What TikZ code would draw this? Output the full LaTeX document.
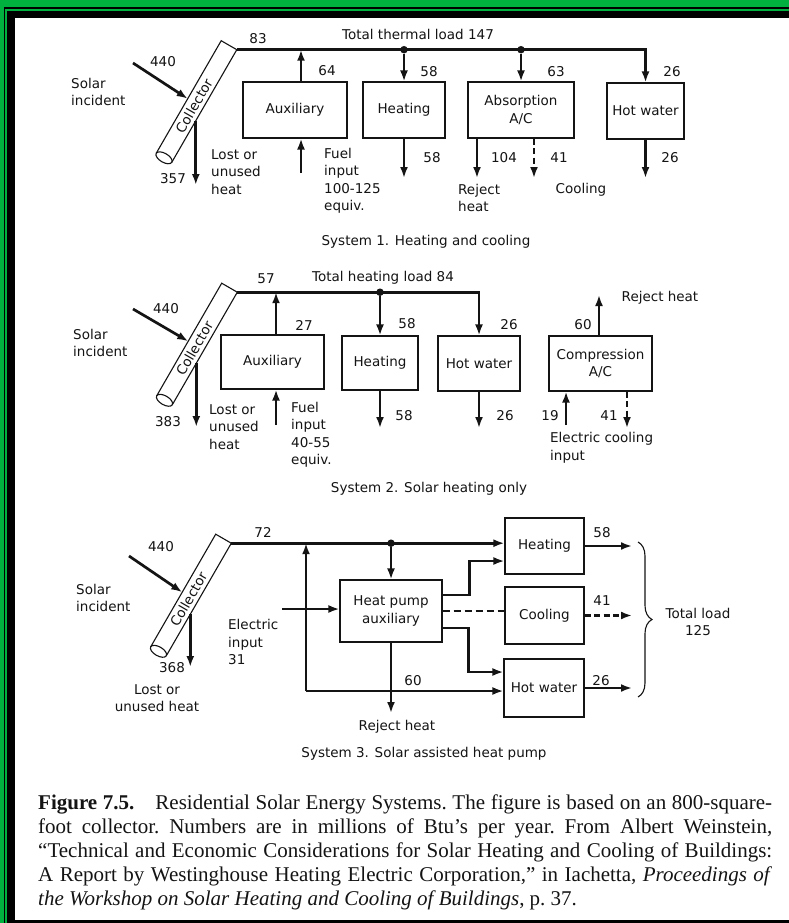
\documentclass[tikz,border=0pt]{standalone}
\usepackage{fontspec}
\setmainfont{Liberation Serif}
\newfontfamily\diagfont{DejaVu Sans}
\usetikzlibrary{positioning,arrows.meta,calc,decorations.pathreplacing}
\definecolor{frame}{HTML}{00B140}
\definecolor{ink}{HTML}{141414}
\newcommand\lbl{\diagfont\fontsize{13.5}{17.5}\selectfont}
\newcommand\capfont{\fontsize{21}{24}\selectfont\frenchspacing}
\tikzset{
  block/.style    ={draw=ink, line width=1.1pt, align=center, font=\lbl, text=ink, inner sep=2pt},
  lbl/.style      ={font=\lbl, text=ink, inner sep=1pt},
  note/.style     ={lbl, align=left, anchor=west},
  tube/.style     ={draw=ink, line width=1.1pt},
  pipe/.style     ={draw=ink, line width=2.7pt},
  flow/.style     ={pipe, -{Latex[length=11pt,width=8pt]}},
  dashflow/.style ={flow, dash pattern=on 6pt off 3.5pt},
  dashpipe/.style ={pipe, dash pattern=on 7pt off 4pt},
  joint/.style    ={circle, fill=ink, inner sep=0pt, minimum size=7.5pt},
  collector/.pic  ={
    \begin{scope}[rotate=60]
      \draw[tube] (-65,-9) -- (65,-9) -- (65,9) -- (-65,9);
      \draw[tube] (-65,0) ellipse [x radius=4.5, y radius=9];
      \node[lbl, rotate=60] (-lbl) at (-5,0) {Collector};
      \coordinate (-top) at (65,9);
      \coordinate (-lost) at (-17,9);
      \coordinate (-sun) at (-2,-9);
    \end{scope}
  },
}
\begin{document}
\begin{tikzpicture}[x=1pt, y=-1pt]
\useasboundingbox (0,0) rectangle (789,923);
% frame
\fill[frame] (0,0) rectangle (789,923);
\fill[black] (4,7) rectangle (789,923);
\fill[frame] (5,9) rectangle (789,923);
\fill[black] (7,11) rectangle (789,923);
\fill[white] (15,18) rectangle (789,920);

% System 1
\pic (c1) at (196.5,101.5) {collector};
\coordinate (s1) at (133,63);
\draw[flow] (s1) -- (c1-sun);
\node[lbl] (n440a) at (163,62) {440};
\node[note] (sol1) at (70,92) {Solar\\incident};
\coordinate (l1) at (0,185);
\draw[flow] (c1-lost) -- (c1-lost |- l1);
\node[lbl] (n357) at (173,179) {357};
\node[note] (lost1) at (210,172) {Lost or\\unused\\heat};
\node[block, minimum width=104, minimum height=56] (aux1) at (295,110) {Auxiliary};
\node[block, minimum width=82, minimum height=56] (heat1) at (404,110) {Heating};
\node[block, minimum width=106, minimum height=56] (abs1) at (521,110) {Absorption\\A/C};
\node[block, minimum width=77, minimum height=56] (hw1) at (645.5,111) {Hot water};
\draw[flow] (c1-top) -| (hw1.north);
\node[lbl] (n83) at (258,39) {83};
\node[lbl] (tot1) at (418,34) {Total thermal load 147};
\node[joint] (j1a) at (heat1.north |- c1-top) {};
\node[joint] (j1b) at (abs1.north |- c1-top) {};
\draw[flow] (aux1.north -| 301,0) -- (c1-top -| 301,0);
\coordinate (f1) at (301,173);
\draw[flow] (f1) -- (f1 |- aux1.south);
\draw[flow] (j1a) -- (heat1.north);
\draw[flow] (j1b) -- (abs1.north);
\coordinate (o1) at (0,178);
\draw[flow] (heat1.south) -- (heat1.south |- o1);
\draw[flow] (abs1.south -| 477,0) -- (477,0 |- o1);
\draw[dashflow] (abs1.south -| 534,0) -- (534,0 |- o1);
\draw[flow] (hw1.south) -- (hw1.south |- o1);
\node[lbl] (n64) at (327,71) {64};
\node[note] (fuel1) at (323,181) {Fuel\\input\\100-125\\equiv.};
\node[lbl] (n58a) at (429,72) {58};
\node[lbl] (n58b) at (432,158) {58};
\node[lbl] (n63) at (556,72) {63};
\node[lbl] (n104) at (504,158) {104};
\node[lbl] (n41a) at (559,158) {41};
\node[note] (rej1) at (457,198) {Reject\\heat};
\node[lbl] (cool1) at (581,190) {Cooling};
\node[lbl] (n26a) at (672,72) {26};
\node[lbl] (n26b) at (670,158) {26};
\node[lbl] (sys1) at (426,242) {System 1. Heating and cooling};

% System 2
\pic (c2) at (197,344) {collector};
\coordinate (s2) at (133,309);
\draw[flow] (s2) -- (c2-sun);
\node[lbl] (n440b) at (166,309) {440};
\node[note] (sol2) at (72,343) {Solar\\incident};
\coordinate (l2) at (0,427);
\draw[flow] (c2-lost) -- (c2-lost |- l2);
\node[lbl] (n383) at (168,422) {383};
\node[note] (lost2) at (208,427) {Lost or\\unused\\heat};
\node[block, minimum width=103, minimum height=54] (aux2) at (272.5,362) {Auxiliary};
\node[block, minimum width=76, minimum height=54] (heat2) at (380,363) {Heating};
\node[block, minimum width=82, minimum height=55] (hw2) at (479,363.5) {Hot water};
\node[block, minimum width=103, minimum height=55] (comp2) at (600.5,363.5) {Compression\\A/C};
\draw[flow] (c2-top) -| (hw2.north);
\node[lbl] (n57) at (266,279) {57};
\node[lbl] (tot2) at (383,278) {Total heating load 84};
\node[joint] (j2) at (heat2.north |- c2-top) {};
\draw[flow] (j2) -- (heat2.north);
\draw[flow] (aux2.north -| 276,0) -- (c2-top -| 276,0);
\coordinate (f2) at (276,425);
\draw[flow] (f2) -- (f2 |- aux2.south);
\coordinate (o2) at (0,428);
\draw[flow] (heat2.south) -- (heat2.south |- o2);
\draw[flow] (hw2.south) -- (hw2.south |- o2);
\coordinate (rj2) at (599,295);
\draw[flow] (comp2.north -| rj2) -- (rj2);
\coordinate (e2) at (566,425);
\draw[flow] (e2) -- (e2 |- comp2.south);
\draw[dashflow] (comp2.south -| 627,0) -- (627,0 |- o2);
\node[lbl] (n27) at (304,325) {27};
\node[note] (fuel2) at (290,435) {Fuel\\input\\40-55\\equiv.};
\node[lbl] (n58c) at (407,324) {58};
\node[lbl] (n58d) at (404,416) {58};
\node[lbl] (n26c) at (509,325) {26};
\node[lbl] (n26d) at (505,416) {26};
\node[lbl] (n60a) at (583,325) {60};
\node[lbl] (rej2) at (660,298) {Reject heat};
\node[lbl] (n19) at (550,416) {19};
\node[lbl] (n41b) at (609,416) {41};
\node[note] (elec2) at (549,448) {Electric cooling\\input};
\node[lbl] (sys2) at (429,489) {System 2. Solar heating only};

% System 3
\pic (c3) at (191,595) {collector};
\coordinate (s3) at (129,556);
\draw[flow] (s3) -- (c3-sun);
\node[lbl] (n440c) at (161,547) {440};
\node[note] (sol3) at (75,598) {Solar\\incident};
\coordinate (l3) at (0,667);
\draw[flow] (c3-lost) -- (c3-lost |- l3);
\node[lbl] (n368) at (172,668) {368};
\node[lbl, align=center] (lost3) at (157,698) {Lost or\\unused heat};
\node[block, minimum width=102, minimum height=62] (hp3) at (391,611) {Heat pump\\auxiliary};
\node[block, minimum width=79, minimum height=56] (heat3) at (544.5,546) {Heating};
\node[block, minimum width=79, minimum height=57] (cool3) at (544.5,615.5) {Cooling};
\node[block, minimum width=80, minimum height=58] (hw3) at (544,688) {Hot water};
\draw[flow] (c3-top) -- (c3-top -| heat3.west);
\node[lbl] (n72) at (263,532) {72};
\node[joint] (j3) at (hp3.north |- c3-top) {};
\draw[flow] (j3) -- (hp3.north);
\coordinate (b3) at (306,691);
\draw[flow] (b3) -- (b3 |- c3-top);
\draw[flow] (b3) -- (b3 -| hw3.west);
\coordinate (rj3) at (391,713);
\draw[flow] (hp3.south) -- (rj3);
\coordinate (e3) at (282,609);
\draw[flow] (e3) -- (e3 -| hp3.west);
\draw[flow] ($(hp3.east)+(0,-16)$) -- ++(27,0) |- ($(heat3.west)+(0,15)$);
\draw[dashpipe] (hp3.east) -- (hp3.east -| cool3.west);
\draw[flow] ($(hp3.east)+(0,17)$) -- ++(26,0) |- ($(hw3.west)+(0,-16)$);
\coordinate (br) at (632,0);
\draw[flow] (heat3.east) -- (heat3.east -| br);
\draw[dashflow] (cool3.east) -- (cool3.east -| br);
\draw[flow] (hw3.east) -- (hw3.east -| br);
\draw[decorate, decoration={brace, amplitude=14pt}, draw=ink, line width=1.1pt] (638,542) -- (638,697);
\node[note] (elec3) at (227,642) {Electric\\input\\31};
\node[lbl] (n60b) at (413,681) {60};
\node[lbl] (rej3) at (397,727) {Reject heat};
\node[lbl] (n58e) at (602,533) {58};
\node[lbl] (n41c) at (602,601) {41};
\node[lbl] (n26e) at (601,681) {26};
\node[lbl, align=center] (tot3) at (698,622) {Total load\\125};
\node[lbl] (sys3) at (424,754) {System 3. Solar assisted heat pump};

% figure caption
\node[anchor=north west, text width=734pt, align=justify, inner sep=0pt, font=\capfont, text=ink] (figcap) at (38,795)
  {\textbf{Figure 7.5.}\quad Residential Solar Energy Systems. The figure is based on an 800-square-\linebreak
   foot collector. Numbers are in millions of Btu's per year. From Albert Weinstein,\linebreak
   ``Technical and Economic Considerations for Solar Heating and Cooling of Buildings:\linebreak
   A Report by Westinghouse Heating Electric Corporation,'' in Iachetta, \textit{Proceedings of}\linebreak
   \textit{the Workshop on Solar Heating and Cooling of Buildings}, p. 37.};
\end{tikzpicture}
\end{document}
